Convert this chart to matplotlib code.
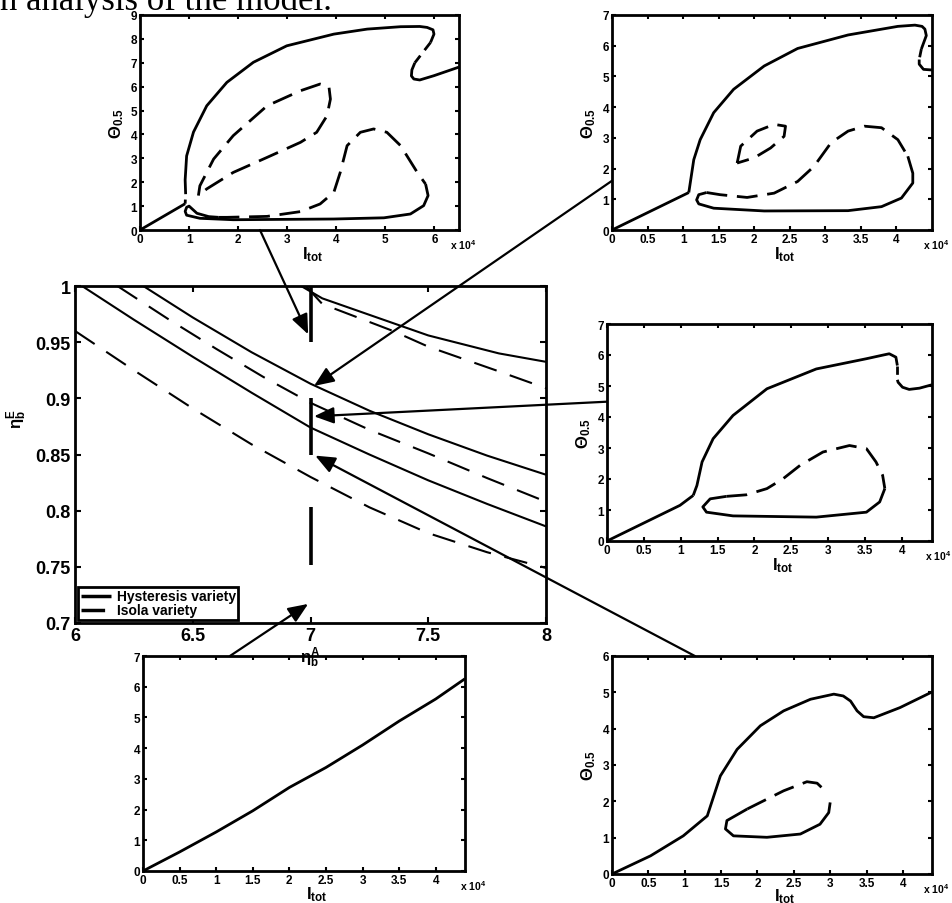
import matplotlib
matplotlib.use('Agg')
import matplotlib.pyplot as plt
from matplotlib.patches import ConnectionPatch
from matplotlib.ticker import FuncFormatter

plt.rcParams['font.family'] = ['Liberation Sans', 'DejaVu Sans']
plt.rcParams['font.weight'] = 'bold'
plt.rcParams['mathtext.fontset'] = 'custom'
plt.rcParams['mathtext.rm'] = 'Liberation Sans:bold'
plt.rcParams['mathtext.it'] = 'Liberation Sans:bold'
plt.rcParams['mathtext.bf'] = 'Liberation Sans:bold'
plt.rcParams['lines.scale_dashes'] = False
plt.rcParams['axes.linewidth'] = 2.0

# ---- panel A (top left), I_tot in 1e4 ----
a_lin_x = [0, 0.92]
a_lin_y = [0, 1.1]
a_gap_x = [0.92, 0.93]
a_gap_y = [1.1, 1.5]
a_up_x = [0.93, 0.92, 0.95, 1.09, 1.36, 1.77, 2.31, 2.99, 3.95, 4.63, 5.31, 5.7, 5.85, 5.97, 5.99, 5.92]
a_up_y = [1.5, 2.1, 3.1, 4.1, 5.2, 6.18, 7.02, 7.71, 8.2, 8.41, 8.51, 8.52, 8.48, 8.38, 8.2, 7.85]
a_fold_x = [5.92, 5.75, 5.6]
a_fold_y = [7.85, 7.4, 7.0]
a_hi_x = [5.6, 5.54, 5.53, 5.58, 5.7, 5.99, 6.5]
a_hi_y = [7.0, 6.7, 6.45, 6.32, 6.28, 6.46, 6.82]
a_loop_s_x = [5.82, 5.87, 5.78, 5.51, 4.97, 3.95, 1.9, 1.22, 0.95, 0.92, 0.95, 1.0, 1.08, 1.16, 1.4, 1.6]
a_loop_s_y = [1.92, 1.44, 1.02, 0.67, 0.51, 0.46, 0.43, 0.49, 0.62, 0.78, 0.95, 1.0, 0.85, 0.7, 0.56, 0.53]
a_loop_d_x = [1.6, 1.77, 2.59, 3.27, 3.67, 3.95, 4.08, 4.22, 4.49, 4.76, 5.03, 5.31, 5.65, 5.82]
a_loop_d_y = [0.53, 0.53, 0.57, 0.77, 1.09, 1.58, 2.41, 3.53, 4.09, 4.23, 4.09, 3.53, 2.41, 1.92]
a_iso_x = [1.19, 1.22, 1.5, 1.9, 2.59, 3.27, 3.67, 3.85, 3.88, 3.81, 3.6, 3.27, 2.59, 1.9, 1.36, 1.19]
a_iso_y = [1.44, 1.85, 2.97, 3.95, 5.2, 5.83, 6.11, 6.0, 5.48, 4.78, 4.09, 3.67, 3.04, 2.41, 1.72, 1.44]

# ---- panel B (top right) ----
b_lin_x = [0, 1.08]
b_lin_y = [0, 1.22]
b_up_x = [1.08, 1.15, 1.24, 1.43, 1.71, 2.14, 2.61, 3.32, 4.02, 4.26, 4.36, 4.40, 4.42, 4.35]
b_up_y = [1.22, 2.29, 2.94, 3.82, 4.58, 5.34, 5.91, 6.35, 6.63, 6.67, 6.63, 6.54, 6.33, 5.89]
b_fold_x = [4.35, 4.32]
b_fold_y = [5.89, 5.55]
b_hi_x = [4.32, 4.32, 4.38, 4.5]
b_hi_y = [5.55, 5.4, 5.23, 5.21]
b_loop_s_x = [4.16, 4.23, 4.23, 4.07, 3.79, 3.32, 2.14, 1.43, 1.22, 1.19, 1.22, 1.33]
b_loop_s_y = [2.40, 1.85, 1.53, 1.04, 0.76, 0.63, 0.62, 0.71, 0.85, 0.98, 1.15, 1.22]
b_loop_d_x = [1.33, 1.52, 1.9, 2.28, 2.61, 2.84, 3.08, 3.32, 3.55, 3.79, 4.02, 4.16]
b_loop_d_y = [1.22, 1.15, 1.06, 1.2, 1.58, 2.07, 2.84, 3.22, 3.38, 3.33, 2.94, 2.40]
b_iso_x = [1.76, 1.81, 2.04, 2.28, 2.44, 2.42, 2.23, 2.0, 1.76]
b_iso_y = [2.18, 2.73, 3.22, 3.44, 3.38, 3.05, 2.67, 2.35, 2.18]

# ---- panel C (middle right) ----
c_lin_x = [0, 0.99, 1.17]
c_lin_y = [0, 1.15, 1.47]
c_up_x = [1.17, 1.22, 1.29, 1.44, 1.71, 2.17, 2.84, 3.52, 3.75, 3.83, 3.92, 3.94]
c_up_y = [1.47, 1.79, 2.55, 3.30, 4.05, 4.91, 5.55, 5.88, 6.0, 6.04, 5.93, 5.66]
c_fold_x = [3.94, 3.94]
c_fold_y = [5.66, 5.2]
c_hi_x = [3.94, 3.95, 4.01, 4.10, 4.24, 4.41]
c_hi_y = [5.2, 5.12, 4.96, 4.89, 4.93, 5.04]
c_loop_s_x = [3.77, 3.70, 3.52, 2.84, 1.71, 1.35, 1.3, 1.4, 1.62]
c_loop_s_y = [1.69, 1.26, 0.93, 0.77, 0.81, 0.93, 1.10, 1.36, 1.44]
c_loop_d_x = [1.62, 1.89, 2.17, 2.39, 2.62, 2.93, 3.29, 3.52, 3.65, 3.74, 3.77]
c_loop_d_y = [1.44, 1.49, 1.69, 2.01, 2.44, 2.87, 3.08, 2.98, 2.55, 2.12, 1.69]

# ---- panel D (bottom left) ----
d_x = [0, 0.5, 1, 1.5, 2, 2.5, 3, 3.5, 4, 4.4]
d_y = [0, 0.62, 1.27, 1.96, 2.72, 3.37, 4.1, 4.88, 5.6, 6.26]

# ---- panel E (bottom right) ----
e_main_x = [0, 0.53, 0.98, 1.31, 1.4, 1.49, 1.72, 2.04, 2.36, 2.73, 3.05, 3.18, 3.28, 3.37, 3.46, 3.6, 3.96, 4.4]
e_main_y = [0, 0.5, 1.05, 1.6, 2.15, 2.7, 3.43, 4.08, 4.49, 4.81, 4.95, 4.9, 4.76, 4.49, 4.33, 4.3, 4.58, 5.01]
e_loop_s_x = [3.0, 2.98, 2.86, 2.59, 2.13, 1.67, 1.56, 1.58, 1.86]
e_loop_s_y = [1.97, 1.69, 1.37, 1.1, 1.01, 1.05, 1.24, 1.47, 1.79]
e_loop_d_x = [1.86, 2.04, 2.36, 2.68, 2.82, 2.93]
e_loop_d_y = [1.79, 1.97, 2.29, 2.54, 2.5, 2.29]

# ---- centre panel: bifurcation varieties in (eta_b^A, eta_b^E) ----
s1_x = [6.96, 7.05, 7.2, 7.35, 7.5, 7.8, 8]
s1_y = [1.0, 0.989, 0.978, 0.967, 0.956, 0.940, 0.9325]
d1_x = [6.98, 7.05, 7.35, 7.5, 7.8, 8]
d1_y = [1.0, 0.984, 0.960, 0.946, 0.924, 0.909]
s2_x = [6.29, 6.5, 6.75, 7.0, 7.25, 7.5, 7.75, 8]
s2_y = [1.0, 0.972, 0.941, 0.913, 0.889, 0.868, 0.849, 0.832]
s3_x = [6.03, 6.25, 6.5, 6.75, 7.0, 7.25, 7.5, 7.75, 8]
s3_y = [1.0, 0.97, 0.937, 0.905, 0.874, 0.85, 0.827, 0.806, 0.786]
d2_x = [6.18, 6.4, 6.6, 6.8, 7.0, 7.25, 7.5, 7.75, 8]
d2_y = [1.0, 0.97, 0.944, 0.919, 0.896, 0.872, 0.851, 0.829, 0.808]
d3_x = [6.0, 6.25, 6.5, 6.75, 7.0, 7.25, 7.5, 7.75, 8]
d3_y = [0.960, 0.925, 0.891, 0.859, 0.830, 0.803, 0.780, 0.763, 0.749]
cut_x = 7
cut_lo = [0.95, 0.85, 0.752]
cut_hi = [1.0, 0.9, 0.803]

# arrow tips in centre-panel data, tails in the source panel (axes fraction)
tip_pts = [(6.99, 0.957), (7.015, 0.911), (7.015, 0.884), (7.02, 0.849), (6.99, 0.717)]
tail_pts = [(0.376, 0.0), (0.0, 0.229), (0.0, 0.642), (0.259, 1.0), (0.27, 1.0)]

fmt = FuncFormatter(lambda v, p: '%g' % v)
W, H = 953, 904
fig = plt.figure(figsize=(W / 100, H / 100), dpi=100)


def box(l, r, t, b):
    return [l / W, (H - b) / H, (r - l) / W, (b - t) / H]


def solid(ax, x, y, lw=2.0):
    ax.plot(x, y, color='k', lw=lw, solid_joinstyle='round', solid_capstyle='butt')


def dashed(ax, x, y, lw=2.0, dash=(15, 7)):
    ax.plot(x, y, color='k', lw=lw, ls=(0, dash), dash_joinstyle='round', dash_capstyle='butt')


def small(ax, xmax, ymax, xticks, ylab=True, lab_y=-0.068, exp_x=0.972):
    ax.set_xlim(0, xmax)
    ax.set_ylim(0, ymax)
    ax.set_xticks(xticks)
    ax.set_yticks(range(ymax + 1))
    ax.xaxis.set_major_formatter(fmt)
    ax.tick_params(direction='in', top=True, right=True, length=3, width=1.5,
                   labelsize=8.5, pad=2)
    ax.set_xlabel(r'$I_{tot}$', fontsize=12)
    ax.xaxis.set_label_coords(0.54, lab_y)
    if ylab:
        ax.set_ylabel(r'$\Theta_{0.5}$', fontsize=12, labelpad=3)
    ax.text(exp_x, -0.035, r'x 10$^4$', transform=ax.transAxes, fontsize=7.5, va='top')


axA = fig.add_axes(box(140, 459, 16, 231))
solid(axA, a_lin_x, a_lin_y)
dashed(axA, a_gap_x, a_gap_y, dash=(3, 4))
solid(axA, a_up_x, a_up_y)
dashed(axA, a_fold_x, a_fold_y, dash=(7, 5))
solid(axA, a_hi_x, a_hi_y)
solid(axA, a_loop_s_x, a_loop_s_y)
dashed(axA, a_loop_d_x, a_loop_d_y)
dashed(axA, a_iso_x, a_iso_y)
small(axA, 6.5, 9, range(7))

axB = fig.add_axes(box(612, 932, 16, 231))
solid(axB, b_lin_x, b_lin_y)
solid(axB, b_up_x, b_up_y)
dashed(axB, b_fold_x, b_fold_y, dash=(6, 5))
solid(axB, b_hi_x, b_hi_y)
solid(axB, b_loop_s_x, b_loop_s_y)
dashed(axB, b_loop_d_x, b_loop_d_y)
dashed(axB, b_iso_x, b_iso_y)
small(axB, 4.5, 7, [0, 0.5, 1, 1.5, 2, 2.5, 3, 3.5, 4])

axC = fig.add_axes(box(607, 932, 325, 542))
solid(axC, c_lin_x, c_lin_y)
solid(axC, c_up_x, c_up_y)
dashed(axC, c_fold_x, c_fold_y, dash=(6, 5))
solid(axC, c_hi_x, c_hi_y)
solid(axC, c_loop_s_x, c_loop_s_y)
dashed(axC, c_loop_d_x, c_loop_d_y)
small(axC, 4.41, 7, [0, 0.5, 1, 1.5, 2, 2.5, 3, 3.5, 4], exp_x=0.978)

axD = fig.add_axes(box(143, 465, 657, 872))
solid(axD, d_x, d_y)
small(axD, 4.4, 7, [0, 0.5, 1, 1.5, 2, 2.5, 3, 3.5, 4], ylab=False, lab_y=-0.06, exp_x=0.984)

axE = fig.add_axes(box(612, 932, 657, 875))
solid(axE, e_main_x, e_main_y)
solid(axE, e_loop_s_x, e_loop_s_y)
dashed(axE, e_loop_d_x, e_loop_d_y)
small(axE, 4.4, 6, [0, 0.5, 1, 1.5, 2, 2.5, 3, 3.5, 4], lab_y=-0.058)

# centre panel
ax = fig.add_axes(box(75, 546, 287, 624))
solid(ax, s3_x, s3_y, lw=1.5)
ax.lines[-1].set_label('Hysteresis variety')
dashed(ax, d3_x, d3_y, lw=1.5, dash=(17, 10))
ax.lines[-1].set_label('Isola variety')
solid(ax, s2_x, s2_y, lw=1.5)
solid(ax, s1_x, s1_y, lw=1.5)
dashed(ax, d2_x, d2_y, lw=1.5, dash=(17, 10))
dashed(ax, d1_x, d1_y, lw=1.5, dash=(17, 10))
ax.vlines([cut_x] * len(cut_lo), cut_lo, cut_hi, colors='k', lw=2.6)
ax.set_xlim(6, 8)
ax.set_ylim(0.7, 1.0)
ax.set_xticks([6, 6.5, 7, 7.5, 8])
ax.set_yticks([0.7, 0.75, 0.8, 0.85, 0.9, 0.95, 1.0])
ax.xaxis.set_major_formatter(fmt)
ax.yaxis.set_major_formatter(fmt)
ax.tick_params(direction='in', top=True, right=True, length=4, width=1.5,
               labelsize=13, pad=3)
ax.set_xlabel(r'$\eta_b^A$', fontsize=12, labelpad=0)
ax.set_ylabel(r'$\eta_b^E$', fontsize=12, labelpad=2)
ax.yaxis.set_label_coords(-0.097, 0.61)
leg = ax.legend(loc='lower left', fontsize=10, fancybox=False, edgecolor='k',
                framealpha=1, borderpad=0.15, labelspacing=0.0, handlelength=2.2,
                handletextpad=0.4, borderaxespad=0.25)
leg.get_frame().set_linewidth(2)
for h in leg.get_lines():
    h.set_linewidth(2.5)

for src, tail, tip in zip([axA, axB, axC, axE, axD], tail_pts, tip_pts):
    con = ConnectionPatch(xyA=tail, coordsA=src.transAxes, xyB=tip, coordsB=ax.transData,
                          arrowstyle='-|>,head_length=0.6,head_width=0.25',
                          mutation_scale=20, lw=1.6, color='k', fc='k')
    fig.add_artist(con)

fig.text(332 / W, 1 - 10 / H, 'n analysis of the model.', family='Liberation Serif',
         weight='normal', fontsize=25, ha='right', va='baseline')

fig.savefig('out.png', dpi=100)
